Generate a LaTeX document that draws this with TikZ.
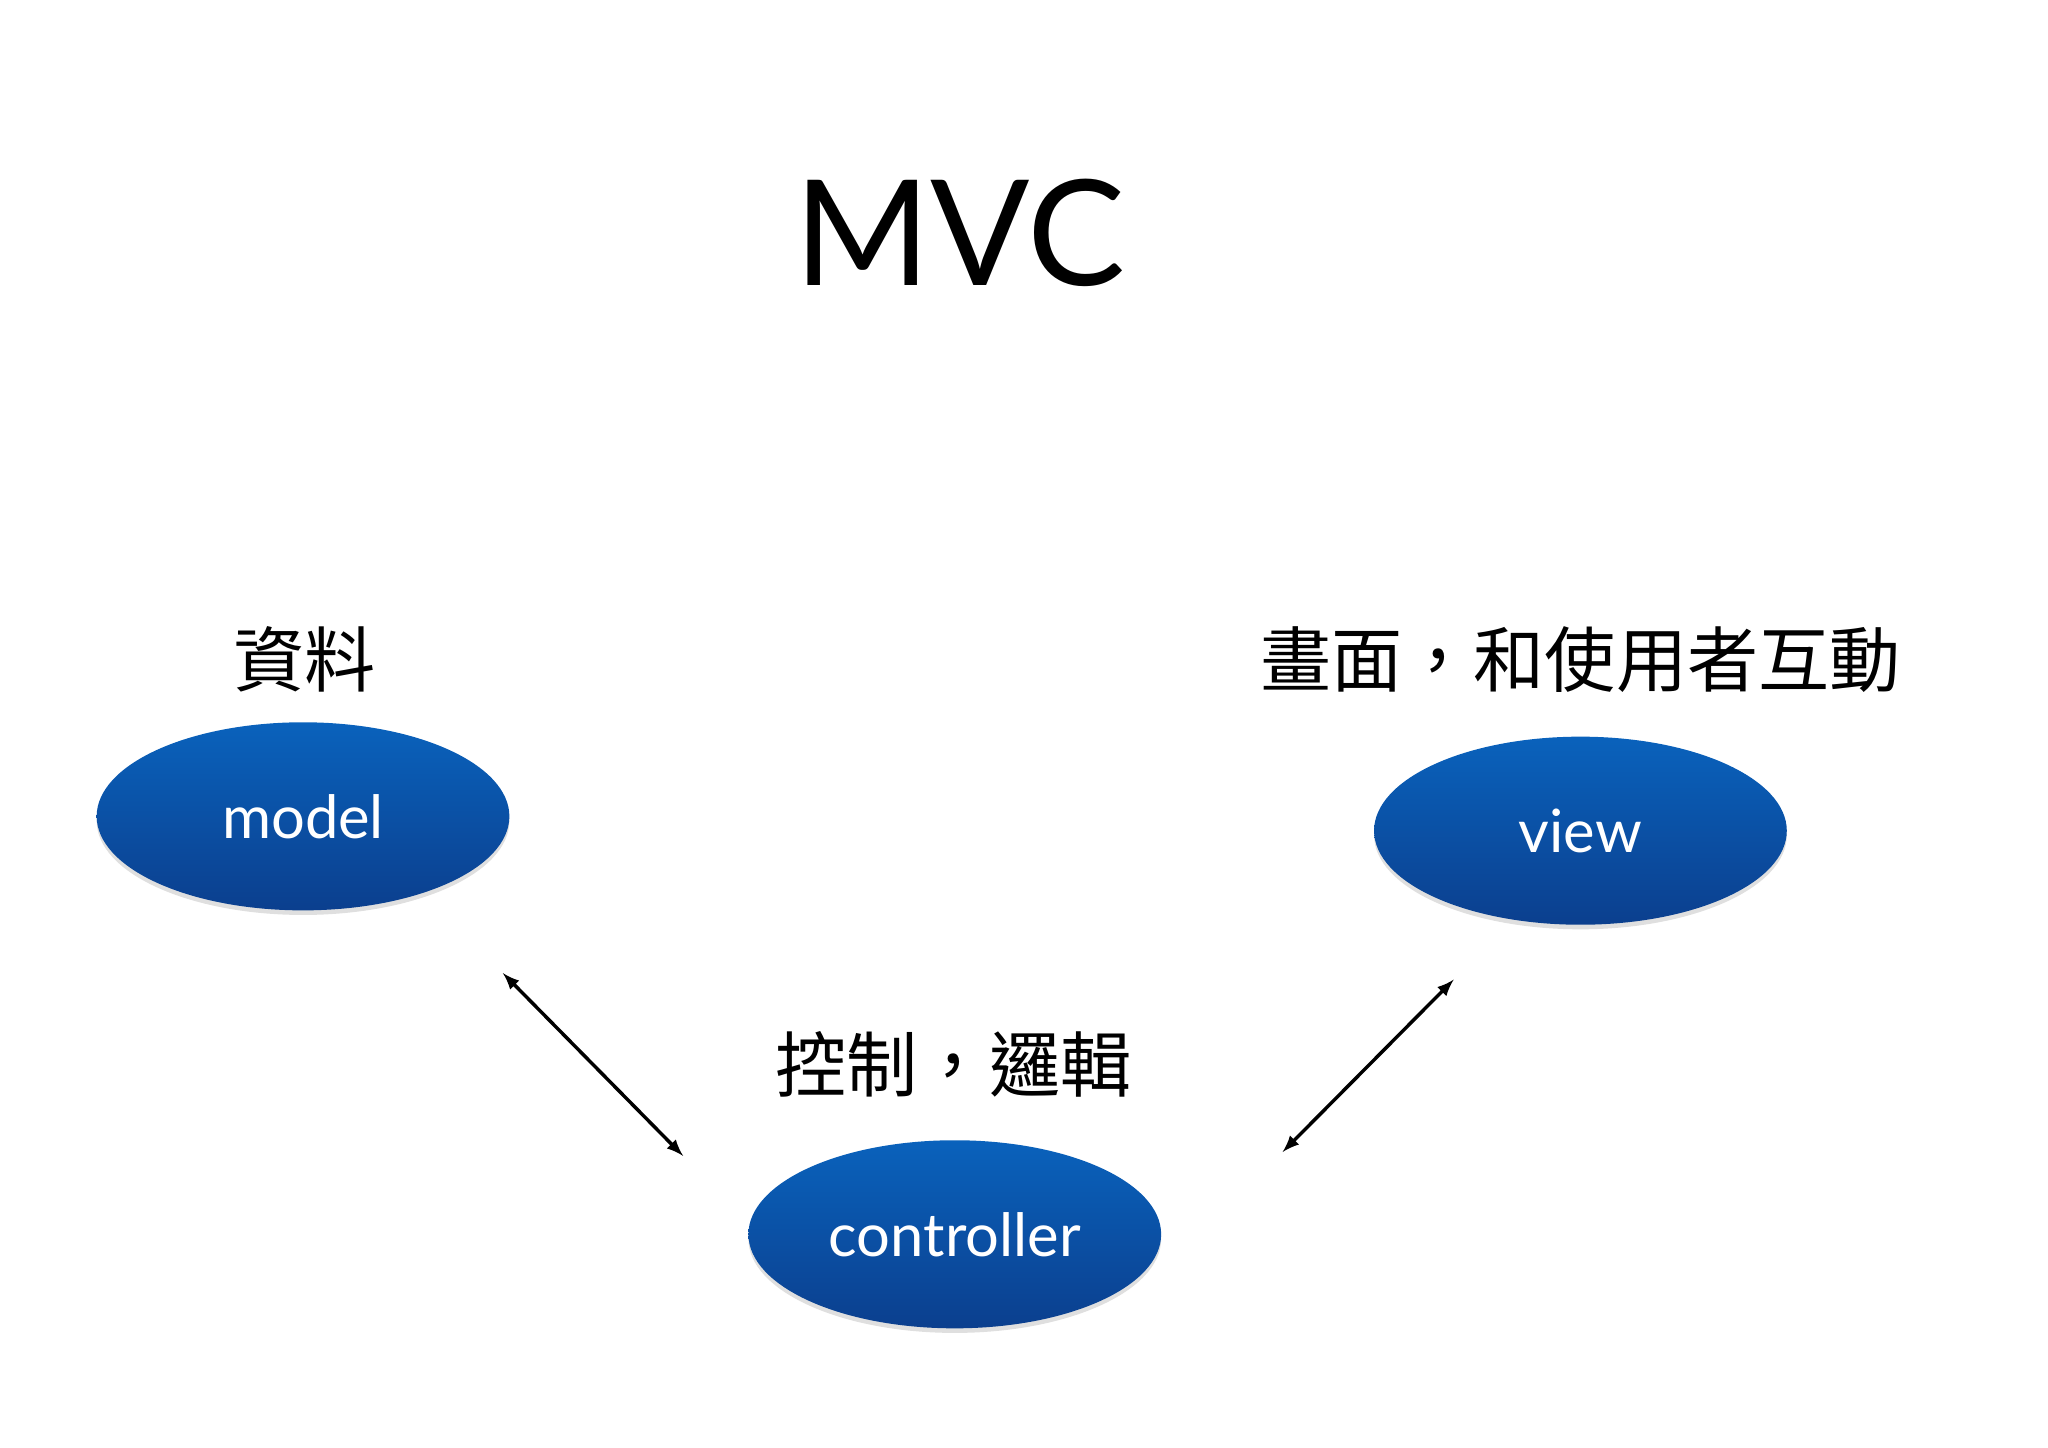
\documentclass[tikz,border=0pt]{standalone}
\usepackage{fontspec}
\setmainfont{Lato}
\newfontfamily\cjk{Noto Sans CJK TC}
\usetikzlibrary{shapes.geometric,shadows}
\definecolor{mvctop}{HTML}{0A62BC}
\definecolor{mvcbot}{HTML}{0B3F8E}
\tikzset{
  part/.style={ellipse,minimum width=6.32cm,minimum height=2.88cm,
    top color=mvctop,bottom color=mvcbot,draw=none,
    drop shadow={opacity=0.25,shadow xshift=0pt,shadow yshift=-2pt},
    text=white,font=\fontsize{26}{30}\selectfont},
  note/.style={font=\cjk\fontsize{31}{36}\selectfont}
}
\begin{document}
\begin{tikzpicture}
    \useasboundingbox (0,0) rectangle (31.36,22.16);
    \node [font=\fontsize{64}{72}\selectfont] (title) at (14.7,18.6) {MVC};
    % the three parts
    \node [part] (model) at (4.64,9.66) {model};
    \node [part] (view) at (24.2,9.44) {view};
    \node [part] (ctrl) at (14.62,3.26) {controller};
    \node [note] (ldata) at (4.66,12.06) {資料};
    \node [note] (lview) at (24.2,12.06) {畫面，和使用者互動};
    \node [note] (lctrl) at (14.6,5.86) {控制，邏輯};
    \coordinate (m1) at (7.7,7.26);
    \coordinate (c1) at (10.46,4.46);
    \coordinate (v1) at (22.26,7.16);
    \coordinate (c2) at (19.64,4.52);
    \draw [<->,>=latex,line width=1.5pt] (m1) -- (c1);
    \draw [<->,>=latex,line width=1.5pt] (v1) -- (c2);
\end{tikzpicture}
\end{document}
